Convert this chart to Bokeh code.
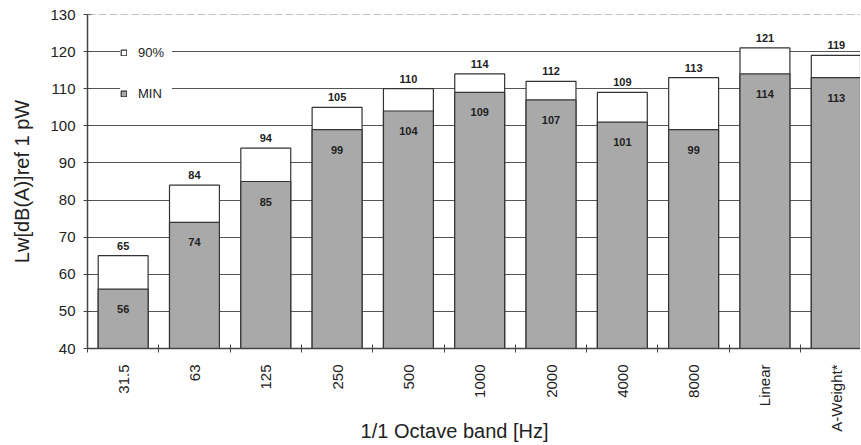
import numpy as np
from bokeh.plotting import figure
from bokeh.models import (Range1d, FixedTicker, Legend, LegendItem,
                          ColumnDataSource, Span)
from bokeh.core.properties import value
from bokeh.embed import file_html
from bokeh.resources import INLINE

# ---- data ----
bands = ["31.5", "63", "125", "250", "500", "1000", "2000", "4000", "8000",
         "Linear", "A-Weight*"]
p90 = [65, 84, 94, 105, 110, 114, 112, 109, 113, 121, 119]
pmin = [56, 74, 85, 99, 104, 109, 107, 101, 99, 114, 113]
y_ticks = [40, 50, 60, 70, 80, 90, 100, 110, 120, 130]

FONT = "Liberation Sans"
pos = [i + 0.5 for i in range(len(bands))]
bounds = list(range(0, len(bands) + 1))

src = ColumnDataSource(dict(x=pos, p90=p90, pmin=pmin,
                            t90=[str(v) for v in p90],
                            tmin=[str(v) for v in pmin]))

p = figure(width=860, height=444, output_backend="svg", toolbar_location=None,
           x_range=Range1d(0, 10.84), y_range=Range1d(y_ticks[0], y_ticks[-1]),
           min_border_left=87, min_border_right=0, min_border_top=14,
           min_border_bottom=96)
p.outline_line_color = None
p.background_fill_color = "white"

r90 = p.vbar(x="x", top="p90", bottom=y_ticks[0], width=0.7, fill_color="white",
             line_color="#333333", line_width=1.2, source=src)
rmin = p.vbar(x="x", top="pmin", bottom=y_ticks[0], width=0.7, fill_color="#a9a9a9",
              line_color="#333333", line_width=1.2, source=src)

p.text(x="x", y="p90", text="t90", source=src, text_align="center",
       text_baseline="bottom", y_offset=-6, text_font=value(FONT),
       text_font_style="bold", text_font_size="11px", text_color="#222222")
p.text(x="x", y="pmin", text="tmin", source=src, text_align="center",
       text_baseline="middle", y_offset=20, text_font=value(FONT),
       text_font_style="bold", text_font_size="11px", text_color="#222222")

# axes
p.xaxis.ticker = FixedTicker(ticks=pos, minor_ticks=bounds)
p.xaxis.major_label_overrides = {pos[i]: bands[i] for i in range(len(bands))}
p.xaxis.major_label_orientation = np.pi / 2
p.xaxis.major_tick_in = 0
p.xaxis.major_tick_out = 0
p.xaxis.minor_tick_in = 4
p.xaxis.minor_tick_out = 4
p.xaxis.major_label_standoff = 12
p.xaxis.major_label_text_font = FONT
p.xaxis.major_label_text_font_size = "15px"
p.xaxis.major_label_text_color = "#222222"
# title is left of the frame centre in the reference: trailing no-break spaces shift it
p.xaxis.axis_label = "1/1 Octave band [Hz]" + "\u00a0" * 7
p.xaxis.axis_label_text_font = FONT
p.xaxis.axis_label_text_font_size = "20px"
p.xaxis.axis_label_text_font_style = "normal"
p.xaxis.axis_label_text_color = "#222222"
p.xaxis.axis_label_standoff = -15

p.yaxis.ticker = FixedTicker(ticks=y_ticks)
p.yaxis.major_tick_in = 4
p.yaxis.major_tick_out = 4
p.yaxis.major_label_standoff = 8
p.yaxis.major_label_text_font = FONT
p.yaxis.major_label_text_font_size = "15px"
p.yaxis.major_label_text_color = "#222222"
p.yaxis.axis_label = "Lw[dB(A)]ref 1 pW"
p.yaxis.axis_label_text_font = FONT
p.yaxis.axis_label_text_font_size = "20px"
p.yaxis.axis_label_text_font_style = "normal"
p.yaxis.axis_label_text_color = "#222222"
p.yaxis.axis_label_standoff = 14

for ax in (p.xaxis, p.yaxis):
    ax.axis_line_color = "#444444"
    ax.axis_line_width = 1.5
    ax.major_tick_line_color = "#444444"
    ax.minor_tick_line_color = "#444444"
p.yaxis.minor_tick_line_color = None

p.xgrid.visible = False
p.ygrid.ticker = FixedTicker(ticks=y_ticks[:-1])
p.ygrid.grid_line_color = "#555555"
p.ygrid.grid_line_width = 1.2
p.add_layout(Span(location=y_ticks[-1], dimension="width", line_color="#888888",
                  line_width=1, line_dash="8 3"))

legend = Legend(items=[LegendItem(label="90%", renderers=[r90]),
                       LegendItem(label="MIN", renderers=[rmin])],
                location=(33, 247), margin=0, padding=12, spacing=26,
                glyph_width=7, glyph_height=7, label_height=14, label_width=34,
                label_standoff=11, label_text_font=FONT,
                label_text_font_size="13px", label_text_color="#222222",
                background_fill_color="white", background_fill_alpha=1.0,
                border_line_color=None)
p.add_layout(legend)

open("out.html", "w").write(file_html(p, INLINE))
